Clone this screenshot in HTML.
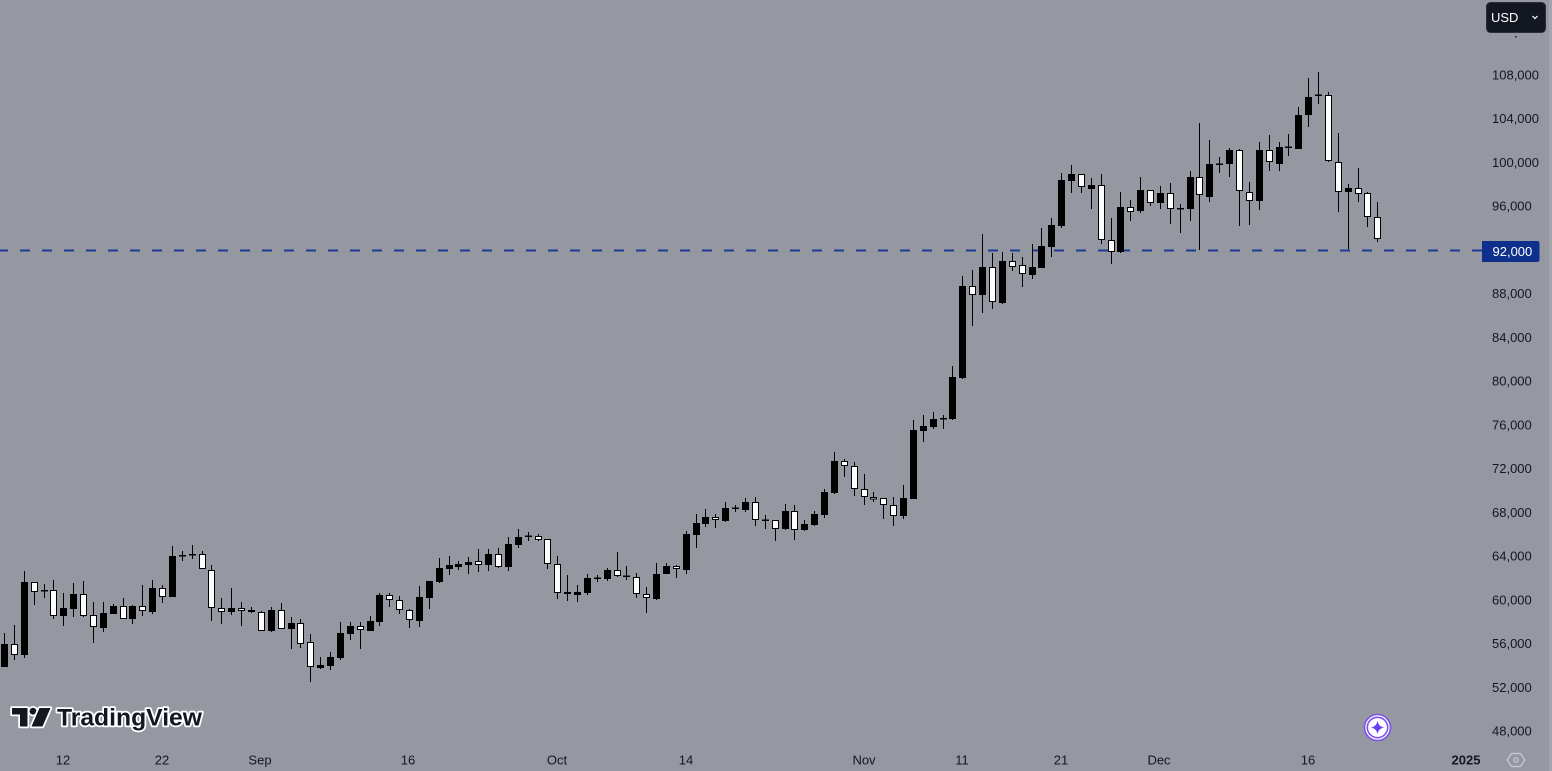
<!DOCTYPE html>
<html>
<head>
<meta charset="utf-8">
<style>
  html,body{margin:0;padding:0;}
  body{width:1552px;height:771px;background:#9598a1;overflow:hidden;position:relative;font-family:"Liberation Sans",Arial,sans-serif;}
  svg{position:absolute;left:0;top:0;}
  .pl{font-size:13px;fill:#131722;font-family:"Liberation Sans",Arial,sans-serif;}
  .tl{font-size:13px;fill:#131722;font-family:"Liberation Sans",Arial,sans-serif;text-anchor:middle;}
</style>
</head>
<body>
<svg id="chart" width="1552" height="771" viewBox="0 0 1552 771" xmlns="http://www.w3.org/2000/svg">
  <rect x="1549" y="0" width="3" height="771" fill="#a2a5ad"/>
  <!-- dashed 92,000 line -->
  <line x1="-2" y1="250.5" x2="1482" y2="250.5" stroke="#1a3a94" stroke-width="2" stroke-dasharray="10 12"/>
  <g id="candles"></g>

  <!-- price labels -->
  <text class="pl" x="1492" y="79.5">108,000</text>
  <text class="pl" x="1492" y="123">104,000</text>
  <text class="pl" x="1492" y="167">100,000</text>
  <text class="pl" x="1492" y="210.5">96,000</text>
  <text class="pl" x="1492" y="298">88,000</text>
  <text class="pl" x="1492" y="342">84,000</text>
  <text class="pl" x="1492" y="385.5">80,000</text>
  <text class="pl" x="1492" y="429.5">76,000</text>
  <text class="pl" x="1492" y="473">72,000</text>
  <text class="pl" x="1492" y="517">68,000</text>
  <text class="pl" x="1492" y="560.5">64,000</text>
  <text class="pl" x="1492" y="604.5">60,000</text>
  <text class="pl" x="1492" y="648">56,000</text>
  <text class="pl" x="1492" y="692">52,000</text>
  <text class="pl" x="1492" y="735.5">48,000</text>

  <!-- 92,000 label -->
  <path d="M1482 241 H1537 Q1539.5 241 1539.5 243.5 V259.5 Q1539.5 262 1537 262 H1482 Z" fill="#0f2f8c"/>
  <text x="1492.5" y="256" style="font-size:13px;fill:#ffffff;font-family:'Liberation Sans',Arial,sans-serif;">92,000</text>

  <!-- USD button -->
  <rect x="1486.5" y="2.5" width="59" height="30" rx="4" ry="4" fill="#131722" stroke="#2a2e39" stroke-width="1"/>
  <text x="1491" y="22" style="font-size:13px;fill:#ffffff;font-family:'Liberation Sans',Arial,sans-serif;">USD</text>
  <path d="M1532.5 16 L1535 18.5 L1537.5 16" fill="none" stroke="#ffffff" stroke-width="1.2"/>
  <rect x="1515" y="36" width="1.5" height="1.5" fill="#131722"/>

  <!-- time labels -->
  <text class="tl" x="63" y="764.5">12</text>
  <text class="tl" x="162" y="764.5">22</text>
  <text class="tl" x="260" y="764.5">Sep</text>
  <text class="tl" x="408" y="764.5">16</text>
  <text class="tl" x="557" y="764.5">Oct</text>
  <text class="tl" x="686" y="764.5">14</text>
  <text class="tl" x="864" y="764.5">Nov</text>
  <text class="tl" x="962" y="764.5">11</text>
  <text class="tl" x="1061" y="764.5">21</text>
  <text class="tl" x="1159" y="764.5">Dec</text>
  <text class="tl" x="1308" y="764.5">16</text>
  <text class="tl" x="1466" y="764.5" style="font-weight:bold;">2025</text>

  <!-- settings hexagon -->
  <path d="M1511.5 753.5 H1520.5 L1525 760 L1520.5 766.5 H1511.5 L1507 760 Z" fill="none" stroke="#c9ccd3" stroke-width="1.2"/>
  <circle cx="1516" cy="760" r="2.2" fill="none" stroke="#c9ccd3" stroke-width="1.2"/>

  <!-- star icon -->
  <circle cx="1377.5" cy="727.5" r="13" fill="#ffffff" stroke="#7b52f0" stroke-width="1.6"/>
  <circle cx="1377.5" cy="727.5" r="10.2" fill="none" stroke="#7b52f0" stroke-width="1.6"/>
  <path d="M1377.5 720.5 Q1378.3 726.7 1384.5 727.5 Q1378.3 728.3 1377.5 734.5 Q1376.7 728.3 1370.5 727.5 Q1376.7 726.7 1377.5 720.5 Z" fill="#6a3ff0"/>

  <!-- TradingView logo -->
  <g stroke="#ffffff" stroke-width="3.5" stroke-linejoin="round" fill="#131722" style="paint-order:stroke fill;">
    <path d="M12 708 H27.5 V726.5 H20 V714.5 H12 Z"/>
    <circle cx="33" cy="711.2" r="3.4"/>
    <path d="M39.5 708 H50.5 L42.5 726.5 H31.5 Z"/>
    <text x="57" y="725.5" textLength="145" lengthAdjust="spacingAndGlyphs" style="font-size:24px;font-weight:bold;font-family:'Liberation Sans',Arial,sans-serif;">TradingView</text>
  </g>
</svg>
<script>
(function(){
var d=[
[644,667,633,667,'b'],[644,655,625,660,'w'],[582,655,571,658,'b'],[582,592,582,605,'w'],[590,591.5,584,598,'c'],
[590,616,580,619,'w'],[608,616,593,626,'b'],[594,609,583,617,'b'],[594,616,581,617,'w'],[615,627,602,643,'w'],
[613,628,602,632,'b'],[606,614,604,614,'b'],[606,619,598,619,'w'],[606,619,605,624,'b'],[606,611,585,616,'w'],
[588,612,580,614,'b'],[588,597,585,603,'w'],[556,597,546,597,'b'],[555,556,551,561,'c'],[554,555,545,559,'c'],
[554,569,551,569,'w'],[570,608,565,621,'w'],[608,612,598,624,'w'],[608,612,588,615,'b'],[608,611,602,626,'w'],
[610,612,607,613,'w'],[612,631,611,631,'w'],[610,631,607,632,'b'],[610,629,603,629,'w'],[623,629,617,649,'b'],
[623,644,619,648,'w'],[642,667,634,682,'w'],[665,668,657,669,'b'],[657,666,652,670,'b'],[633,658,622,660,'b'],
[626,634,622,640,'b'],[626,630,622,649,'w'],[621,631,616,631,'b'],[595,622,593,626,'b'],[595,600,593,607,'w'],
[600,610,596,614,'w'],[610,620,609,628,'w'],[597,621,586,627,'b'],[581,598,581,609,'b'],[568,582,558,583,'b'],
[565,569,556,575,'b'],[564,567,561,570,'b'],[562,565,557,574,'b'],[561,565,549,572,'w'],[554,565,549,571,'b'],
[554,567,548,568,'w'],[544,567,537,571,'b'],[537,545,529,548,'b'],[535.5,537,532,541,'c'],[536,540,534,541,'w'],
[539,564,539,569,'w'],[564,593,556,599,'w'],[592,594,575,601,'w'],[592,595,585,602,'b'],[578,593,574,595,'b'],
[577.5,579,575,582,'c'],[570,579,568,581,'b'],[570,576,552,577,'w'],[575.5,577,566,580,'c'],[577,594,573,598,'w'],
[594,598,587,613,'w'],[574,599,563,600,'b'],[566,574,563,574,'b'],[566,569,565,578,'w'],[534,570,531,574,'b'],
[523,535,514,548,'b'],[517,524,509,527,'b'],[517,520,514,528,'w'],[508,521,502,522,'b'],[507.5,509,505,512,'c'],
[502,510,498,512,'b'],[502,520,497,526,'w'],[519.5,521,515,529,'c'],[520,529,520,541,'w'],[511,529,504,530,'b'],
[511,530,505,540,'w'],[524,530,520,531,'b'],[514,525,511,526,'b'],[492,515,489,518,'b'],[461,493,452,494,'b'],
[461,466,459,477,'w'],[466,489,462,496,'w'],[489,497,474,505,'w'],[497,499.5,492,502,'w'],[498,505,498,519,'w'],
[505,516,497,526,'w'],[498,516,485,519,'b'],[430,499,420,499,'b'],[426,431,415,442,'b'],[419,427,412,429,'b'],
[418,419.5,415,429,'c'],[377,419,366,420,'b'],[286,378,276,379,'b'],[286,295,270,326,'w'],[267,295,234,313,'b'],
[267,302,253,309,'w'],[261,303,252,304,'b'],[261,267,253,271,'w'],[265,274,257,287,'w'],[267,275,244,279,'b'],
[246,268,228,268,'b'],[225,247,218,257,'b'],[180,226,173,228,'b'],[174,181,165,193,'b'],[174,187,174,193,'w'],
[185,189,178,209,'b'],[185,240,174,244,'w'],[240,252,218,264,'w'],[207,252,192,253,'b'],[207,212,200,221,'w'],
[190,211,177,213,'b'],[190,203,190,206,'w'],[193,203,186,209,'b'],[193,209,183,224,'w'],[208,209.5,204,233,'c'],
[177,209,171,221,'b'],[177,195,123,250,'w'],[164,197,140,202,'b'],[163.5,165,157,173,'c'],[150,164,148,177,'b'],
[150,191,149,226,'w'],[192,201,182,225,'w'],[150,201,142,210,'b'],[150,162,135,171,'w'],[147,164,142,171,'b'],
[146.5,148,134,156,'c'],[115,149,107,149,'b'],[97,115,78,127,'b'],[94.5,96,72,104,'c'],[95,161,92,162,'w'],
[162,192,133,212,'w'],[188,192,184,249,'b'],[188,194,168,202,'w'],[193,217,192,227,'w'],[217,239,202,242,'w']
];
var ns='http://www.w3.org/2000/svg';
var g=document.getElementById('candles');
function r(x,y,w,h,f,s){var e=document.createElementNS(ns,'rect');e.setAttribute('x',x);e.setAttribute('y',y);e.setAttribute('width',w);e.setAttribute('height',h);e.setAttribute('fill',f);if(s){e.setAttribute('stroke',s);e.setAttribute('stroke-width','1');}g.appendChild(e);}
for(var i=0;i<d.length;i++){
  var c=d[i];var L=Math.round(1+9.88*i);
  var top=c[0],bot=c[1],wt=c[2],wb=c[3],t=c[4];
  r(L+3,wt,1,Math.max(wb-wt,1),'#000000');
  if(t==='b'){r(L,top,7,Math.max(bot-top,1.5),'#000000');}
  else if(t==='w'){r(L+0.5,top+0.5,6,Math.max(bot-top-1,1),'#ffffff','#000000');}
  else {r(L,top,7,1.5,'#000000');}
}
})();
</script>
</body>
</html>
